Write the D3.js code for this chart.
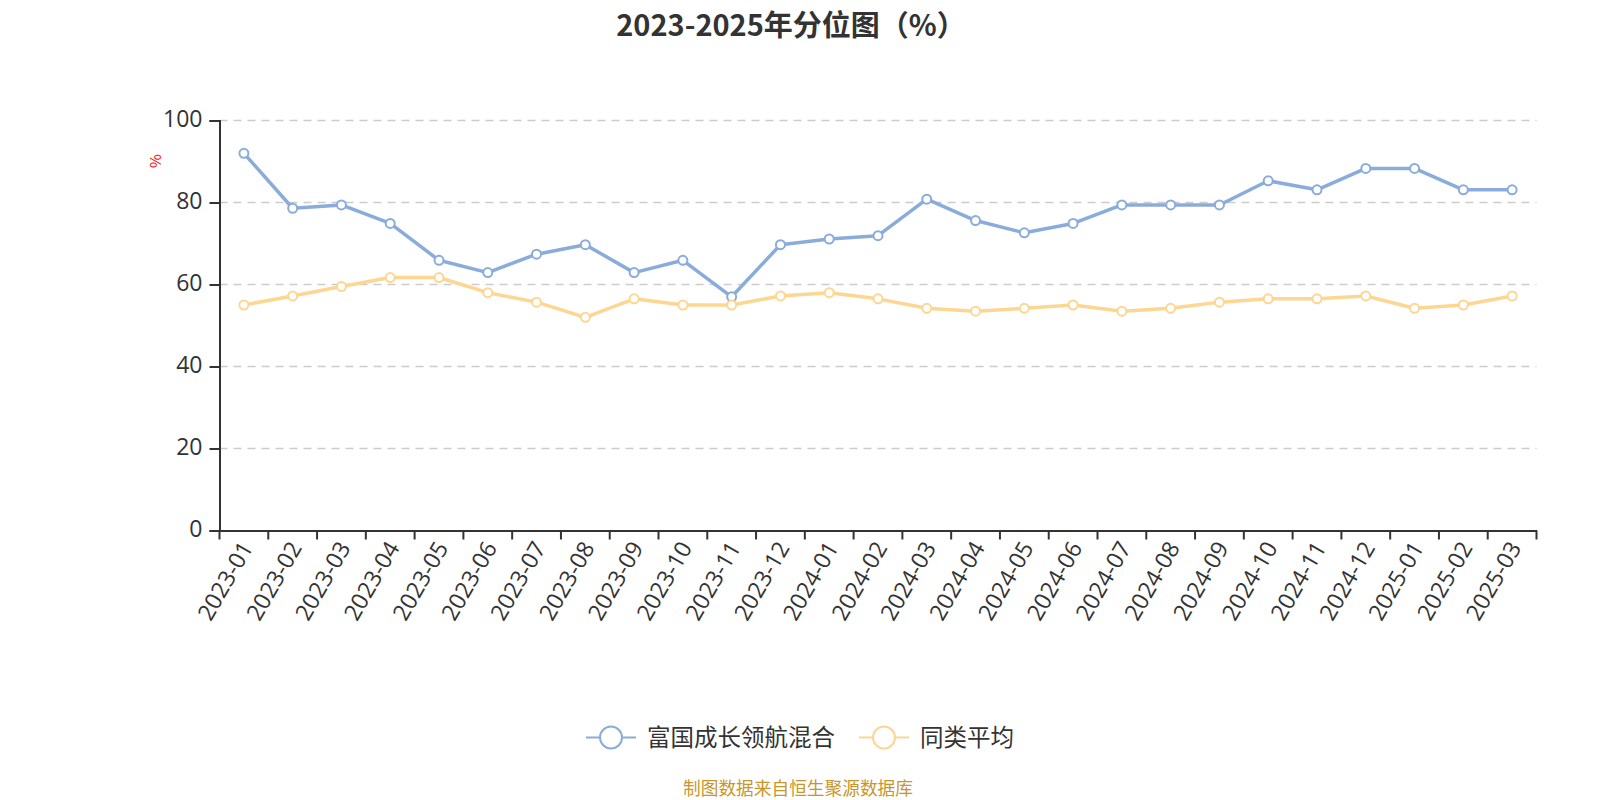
<!DOCTYPE html>
<html>
<head>
<meta charset="utf-8">
<script src="https://cdn.jsdelivr.net/npm/d3@7/dist/d3.min.js"></script>
<style>
  body { margin: 0; background: #fff; }
  svg { font-family: "Microsoft YaHei", "Noto Sans CJK SC", sans-serif; }
</style>
</head>
<body>
<svg width="1600" height="800"></svg>
<script>
// chart data
const months = ['2023-01','2023-02','2023-03','2023-04','2023-05','2023-06','2023-07','2023-08','2023-09',
  '2023-10','2023-11','2023-12','2024-01','2024-02','2024-03','2024-04','2024-05','2024-06','2024-07',
  '2024-08','2024-09','2024-10','2024-11','2024-12','2025-01','2025-02','2025-03'];
const fundValues = [92.0, 78.6, 79.4, 74.9, 65.9, 62.9, 67.4, 69.7, 62.9, 65.9, 57.0, 69.7, 71.1, 71.9,
  80.8, 75.6, 72.6, 74.9, 79.4, 79.4, 79.4, 85.3, 83.1, 88.3, 88.3, 83.1, 83.1];
const avgValues = [55.0, 57.2, 59.5, 61.7, 61.7, 58.0, 55.7, 52.0, 56.5, 55.0, 55.0, 57.2, 58.0, 56.5,
  54.2, 53.5, 54.2, 55.0, 53.5, 54.2, 55.7, 56.5, 56.5, 57.2, 54.2, 55.0, 57.2];
const yTicks = [0, 20, 40, 60, 80, 100];
const seriesNames = ['富国成长领航混合', '同类平均'];
const colors = ['#8aacdb', '#fdd692'];

const svg = d3.select('svg');

// plot area
const plotLeft = 219.5, plotRight = 1536.5, plotTop = 120.5, plotBottom = 530.5;

// scales
const xScale = d3.scaleBand().domain(months).range([plotLeft, plotRight]);
const yScale = d3.scaleLinear().domain([0, 100]).range([plotBottom, plotTop]);
const xPos = d => xScale(d) + xScale.bandwidth() / 2;

// title
svg.append('text')
  .text('2023-2025年分位图（%）')
  .attr('x', 791).attr('y', 36)
  .attr('text-anchor', 'middle')
  .style('font-size', '29px').style('font-weight', 'bold')
  .style('fill', '#333');

// grid lines
svg.append('g')
  .selectAll('line')
  .data(yTicks.filter(t => t > 0))
  .enter()
  .append('line')
  .attr('x1', plotLeft).attr('x2', plotRight)
  .attr('y1', d => yScale(d)).attr('y2', d => yScale(d))
  .attr('stroke', '#ccc').attr('stroke-width', 1.5)
  .attr('stroke-dasharray', '8,6');

// y axis
const yAxis = d3.axisLeft(yScale).tickValues(yTicks).tickSize(10).tickPadding(7);
const yG = svg.append('g').attr('transform', `translate(${plotLeft},0)`).call(yAxis);
yG.select('.domain').attr('stroke', '#333').attr('stroke-width', 2);
yG.selectAll('.tick line').attr('stroke', '#333').attr('stroke-width', 2);
yG.selectAll('.tick text').style('font-size', '23px').style('fill', '#333')
  .style('font-family', '"Open Sans", sans-serif').attr('dy', '0.25em');

// y axis unit
svg.append('text')
  .text('%')
  .attr('transform', 'translate(161,161) rotate(-90)')
  .attr('text-anchor', 'middle')
  .style('font-size', '15px').style('fill', 'red');

// x axis
const xAxis = d3.axisBottom(xScale).tickSize(0).tickPadding(0);
const xG = svg.append('g').attr('transform', `translate(0,${plotBottom})`).call(xAxis);
xG.select('.domain').attr('stroke', '#333').attr('stroke-width', 2);
xG.selectAll('.tick text')
  .style('font-size', '23px').style('fill', '#333')
  .style('font-family', '"Open Sans", sans-serif')
  .attr('text-anchor', 'end')
  .attr('transform', 'translate(3,13) rotate(-60)')
  .attr('dy', '0.35em').attr('dx', '0');
// boundary ticks
const boundaries = months.map(m => xScale(m)).concat([plotRight]);
xG.selectAll('.bound')
  .data(boundaries)
  .enter()
  .append('line')
  .attr('x1', d => d).attr('x2', d => d)
  .attr('y1', 0).attr('y2', 9)
  .attr('stroke', '#333').attr('stroke-width', 2);

// lines and points
const allSeries = [fundValues, avgValues];
allSeries.forEach((vals, k) => {
  const line = d3.line()
    .x((d, i) => xPos(months[i]))
    .y(d => yScale(d));
  svg.append('path')
    .attr('d', line(vals))
    .attr('fill', 'none')
    .attr('stroke', colors[k])
    .attr('stroke-width', 3.5)
    .attr('stroke-linejoin', 'round');
  svg.append('g')
    .selectAll('circle')
    .data(vals)
    .enter()
    .append('circle')
    .attr('cx', (d, i) => xPos(months[i]))
    .attr('cy', d => yScale(d))
    .attr('r', 4.5)
    .attr('fill', '#fff')
    .attr('stroke', colors[k])
    .attr('stroke-width', 2);
});

// legend
const legendY = 737.5;
const legendItems = [{x: 586, tx: 647}, {x: 859, tx: 920}];
legendItems.forEach((it, k) => {
  const g = svg.append('g');
  g.append('line')
    .attr('x1', it.x).attr('x2', it.x + 50)
    .attr('y1', legendY).attr('y2', legendY)
    .attr('stroke', colors[k]).attr('stroke-width', 2);
  g.append('circle')
    .attr('cx', it.x + 25).attr('cy', legendY).attr('r', 11)
    .attr('fill', '#fff').attr('stroke', colors[k]).attr('stroke-width', 2);
  g.append('text')
    .text(seriesNames[k])
    .attr('x', it.tx).attr('y', legendY)
    .attr('dy', '0.35em')
    .style('font-size', '23.5px').style('fill', '#333');
});

// source
svg.append('text')
  .text('制图数据来自恒生聚源数据库')
  .attr('x', 798).attr('y', 795)
  .attr('text-anchor', 'middle')
  .style('font-size', '17.7px').style('fill', '#c8962c');
</script>
</body>
</html>
